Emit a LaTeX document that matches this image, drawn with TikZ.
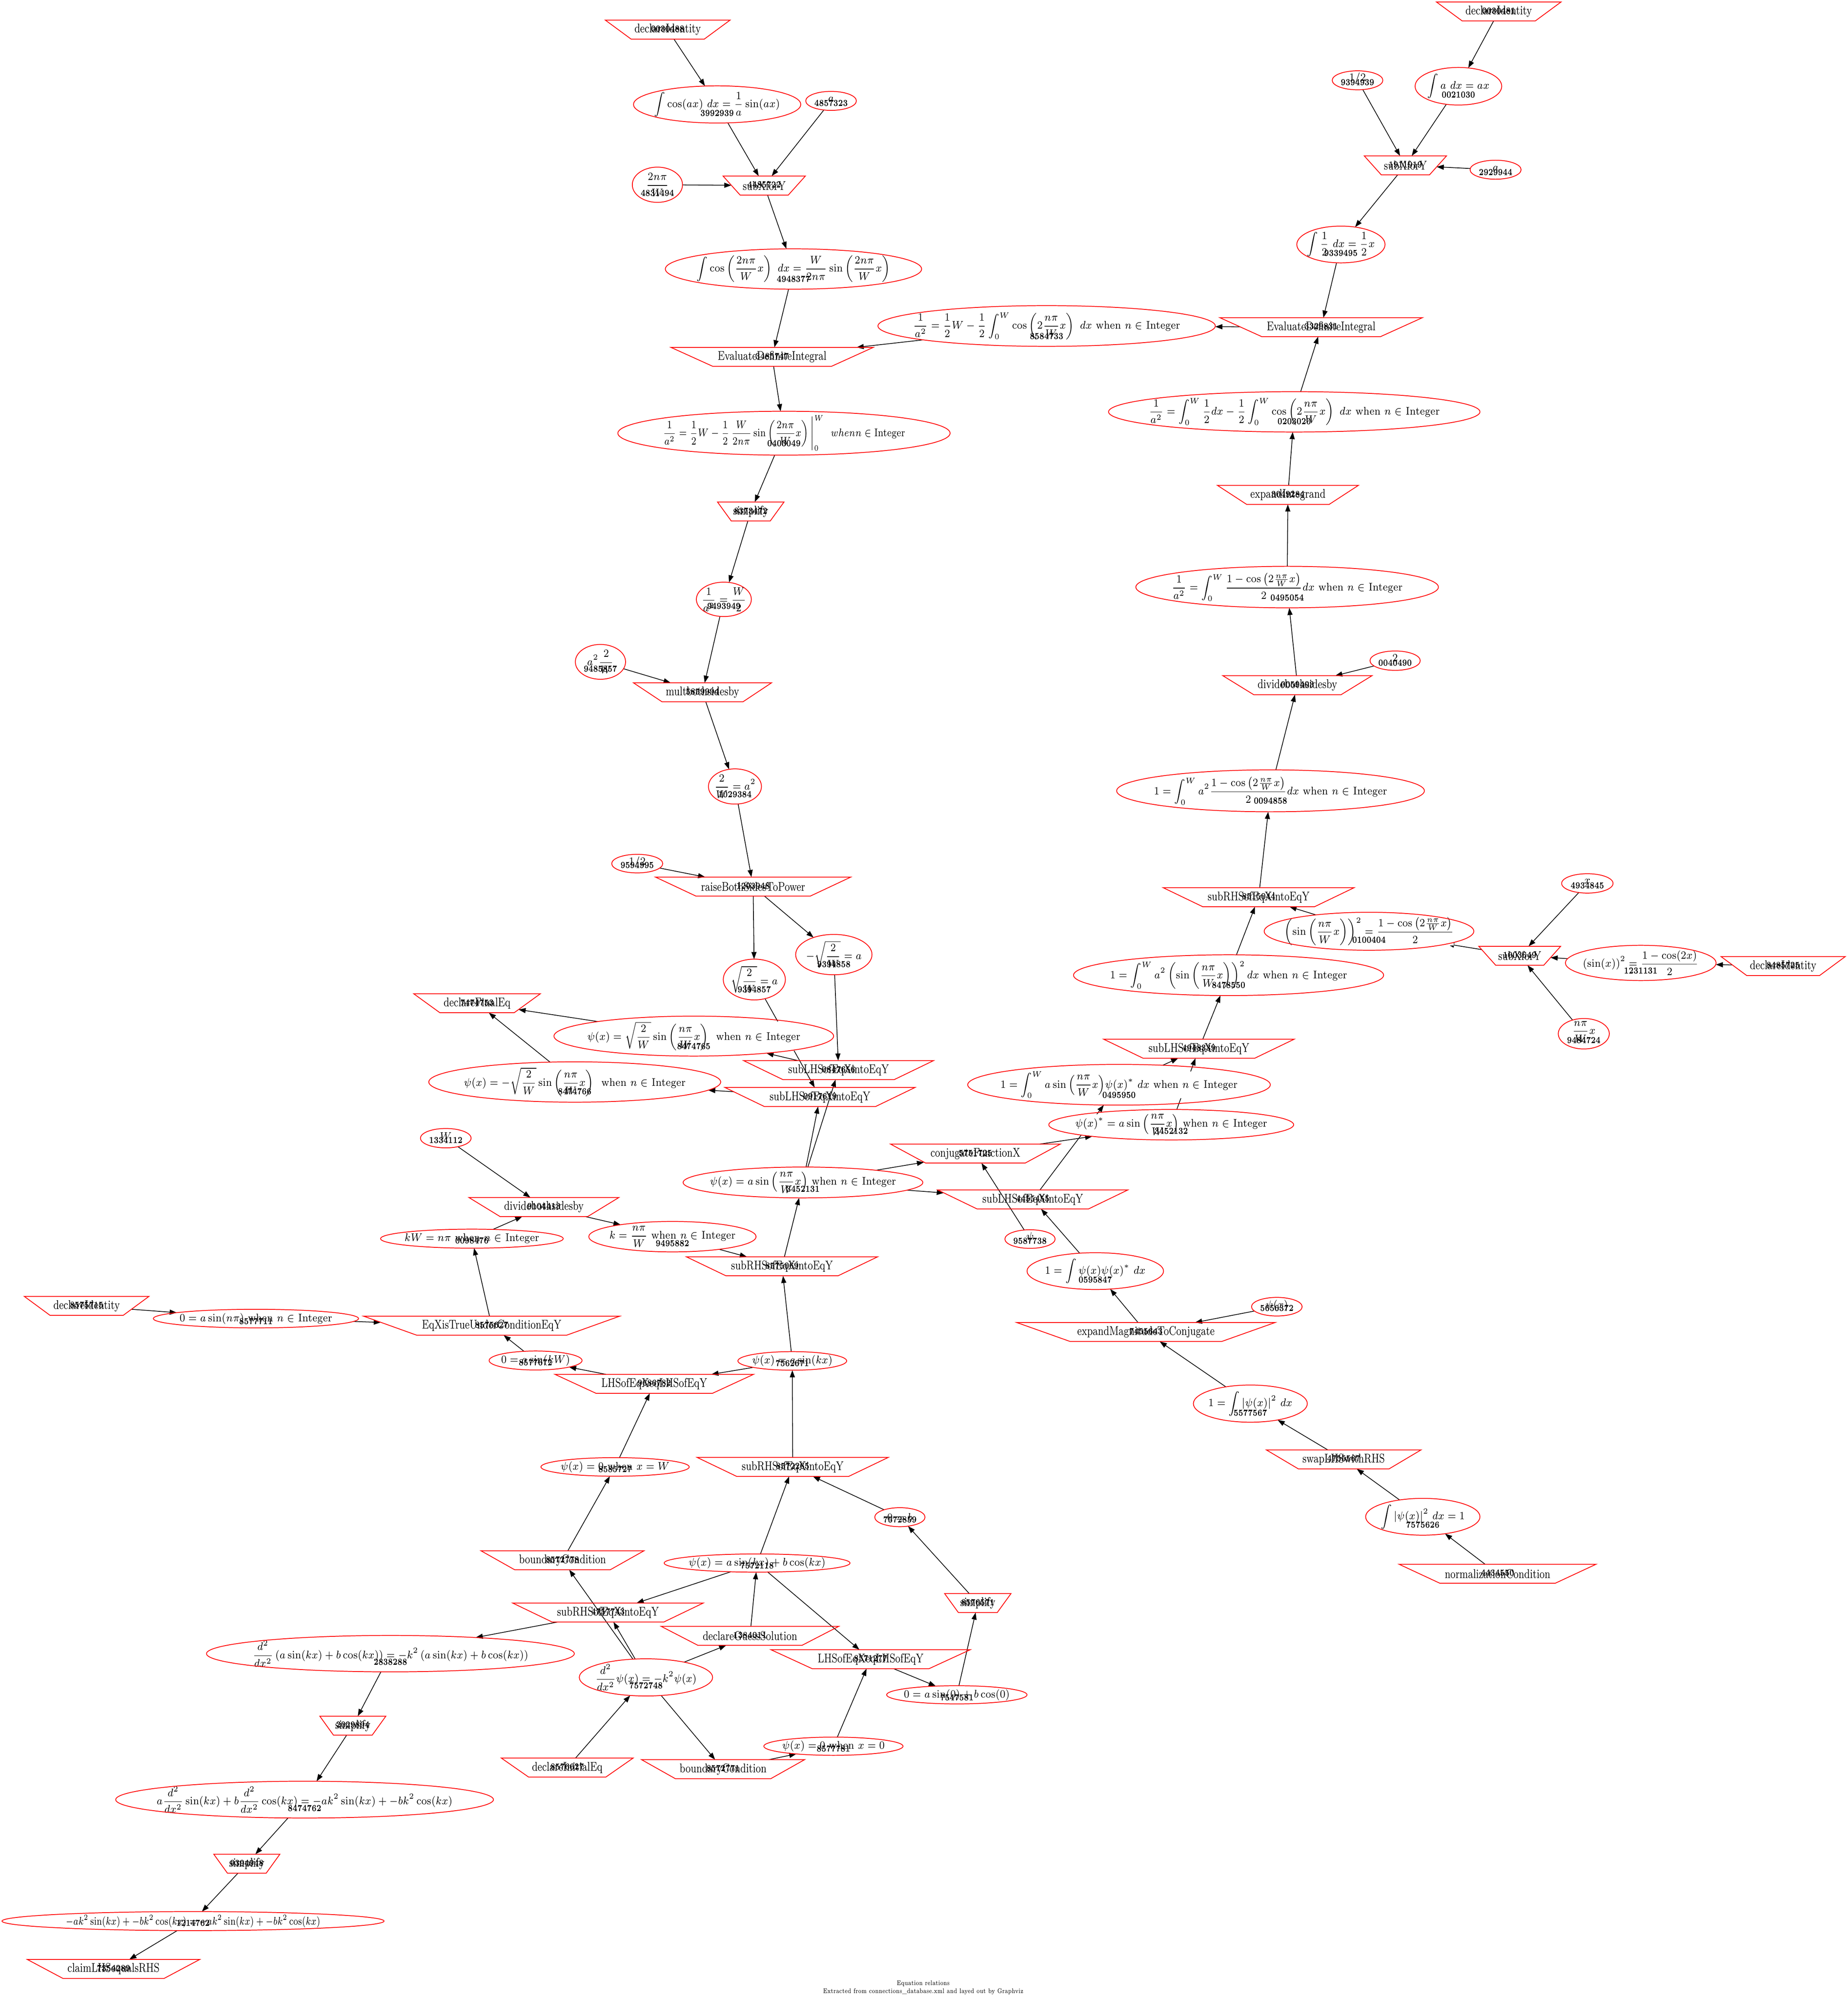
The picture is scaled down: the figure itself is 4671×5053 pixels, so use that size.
\documentclass[tikz,border=0pt]{standalone}
\usepackage{amsmath}
\usepackage{graphicx}
\usetikzlibrary{shapes.geometric,arrows.meta,calc,backgrounds}
\tikzset{
  elshape/.style={ellipse, draw=red, line width=0.5pt, inner sep=0pt, outer sep=0pt},
  trapshape/.style={trapezium, shape border rotate=180, draw=red, line width=0.5pt, inner sep=0pt, outer sep=0pt},
  mlbl/.style={inner sep=0pt, fill=white, font=\fontsize{7}{8.4}\selectfont},
  tlbl/.style={inner sep=0pt, font=\fontsize{8}{9.6}\selectfont},
  idl/.style={inner sep=0pt, font=\fontsize{5.8}{6}\selectfont\bfseries},
  conn/.style={-{Triangle[length=4.5pt,width=3.2pt]}, line width=0.45pt, black},
  foot/.style={align=center, inner sep=0pt, font=\fontsize{4.2}{5}\selectfont},
}
\def\mscale{0.88}
\newcommand\elnode[9]{%
  \node[mlbl] (#1-t) at ($(#2,#3)+(0,#9)$) {\scalebox{\mscale}[1]{#6}};
  \node[elshape, minimum width=#4*0.25pt, minimum height=#5*0.25pt] (#1) at (#2,#3) {};
  \node[idl] (#1-i) at ($(#1)+(0,#8)$) {\scalebox{0.75}[1]{#7}};
}
\newcommand\trapnode[6]{%
  \pgfmathsetmacro\trapang{atan(48/(0.207*#4))}%
  \pgfmathsetlengthmacro\trapbw{0.586*#4*0.25pt}%
  \node[trapshape, trapezium left angle=\trapang, trapezium right angle=\trapang] (#1) at (#2,#3) {\hbox to \trapbw{\vrule width 0pt height 12pt depth 0pt\hfil}};
  \node[tlbl] (#1-t) at (#1) {\scalebox{0.76}[1]{#5}};
  \node[idl] (#1-i) at ($(#1)+(0,-2)$) {\scalebox{0.75}[1]{#6}};
}
\begin{document}
\begin{tikzpicture}[x=0.25pt,y=-0.25pt]
\useasboundingbox (0,0) rectangle (4671,5053);

% process nodes
\trapnode{A1}{1688}{75}{315}{declareIdentity}{0030488}
\trapnode{A5}{1932}{469}{208}{subXforY}{4485722}
\trapnode{A7}{1952}{902}{512}{EvaluateDefiniteIntegral}{3485747}
\trapnode{B2}{3340}{827}{512}{EvaluateDefiniteIntegral}{3329831}
\trapnode{B4}{3256}{1251}{356}{expandIntegrand}{3049284}
\trapnode{C1}{3789}{29}{315}{declareIdentity}{0030481}
\trapnode{C4}{3553}{418}{208}{subXforY}{1911919}
\trapnode{D2}{1898}{1293}{168}{simplify}{8373472}
\trapnode{D5}{1776}{1750}{349}{multbothsidesby}{5859994}
\trapnode{D8}{1904}{2241}{494}{raiseBothSidesToPower}{1293948}
\trapnode{E2}{3280}{1732}{377}{dividebothsidesby}{0059403}
\trapnode{E4}{3182}{2268}{482}{subRHSofEqXintoEqY}{8515044}
\trapnode{E7}{3842}{2416}{207}{subXforY}{1003649}
\trapnode{E9}{4508}{2442}{314}{declareIdentity}{8485725}
\trapnode{E12}{3031}{2651}{481}{subLHSofEqXintoEqY}{4948339}
\trapnode{G4}{2466}{2916}{429}{conjugateFunctionX}{5751725}
\trapnode{G5}{2611}{3032}{480}{subLHSofEqXintoEqY}{4455455}
\trapnode{G9}{2897}{3367}{653}{expandMagnitudeToConjugate}{7455643}
\trapnode{I3}{3397}{3689}{391}{swapLHSwithRHS}{4755567}
\trapnode{I5}{3786}{3978}{498}{normalizationCondition}{4434550}
\trapnode{F5}{1206}{2536}{320}{declareFinalEq}{7474753}
\trapnode{F8}{2120}{2705}{480}{subLHSofEqXintoEqY}{0847656}
\trapnode{F9}{2073}{2773}{480}{subLHSofEqXintoEqY}{0917619}
\trapnode{F14}{1375}{3051}{379}{dividebothsidesby}{9104413}
\trapnode{F17}{1977}{3201}{483}{subRHSofEqXintoEqY}{8575069}
\trapnode{H2}{219}{3301}{315}{declareIdentity}{8575715}
\trapnode{H4}{1243}{3351}{647}{EqXisTrueUnderConditionEqY}{8575627}
\trapnode{H6}{1654}{3498}{502}{LHSofEqXeqLHSofEqY}{9686782}
\trapnode{H9}{2004}{3708}{483}{subRHSofEqXintoEqY}{8572265}
\trapnode{H11}{1422}{3944}{412}{boundaryCondition}{8572778}
\trapnode{H13}{2472}{4052}{168}{simplify}{8576571}
\trapnode{H14}{1537}{4076}{482}{subRHSofEqXintoEqY}{4757743}
\trapnode{H15}{1896}{4135}{449}{declareGuessSolution}{1384011}
\trapnode{H17}{2201}{4194}{504}{LHSofEqXeqLHSofEqY}{8571277}
\trapnode{H20}{1828}{4472}{412}{boundaryCondition}{8572771}
\trapnode{H21}{1434}{4468}{333}{declareInitialEq}{8576627}
\trapnode{K2}{892}{4362}{167}{simplify}{2029894}
\trapnode{K4}{624}{4711}{167}{simplify}{9394948}
\trapnode{K6}{287}{4977}{436}{claimLHSequalsRHS}{7354289}

% expression nodes
\elnode{A2}{1813}{264}{423}{94}{$\displaystyle\int\cos(ax)\ dx=\frac{1}{a}\sin(ax)$}{3992939}{22}{0}
\elnode{A3}{2101}{255}{128}{48}{$a$}{4857323}{6}{-4}
\elnode{A4}{1662}{467}{127}{89}{$\displaystyle\frac{2n\pi}{W}$}{4831494}{21}{0}
\elnode{A6}{2006}{680}{648}{102}{$\displaystyle\int\cos\left(\frac{2n\pi}{W}x\right)\ dx=\frac{W}{2n\pi}\sin\left(\frac{2n\pi}{W}x\right)$}{4948377}{25}{0}
\elnode{B1}{2646}{824}{853}{103}{$\displaystyle\frac{1}{a^2}=\frac{1}{2}W-\frac{1}{2}\int_0^W\cos\left(2\frac{n\pi}{W}x\right)\ dx$ when $n\in$ Integer}{8584733}{26}{0}
\elnode{B3}{3272}{1041}{939}{102}{$\displaystyle\frac{1}{a^2}=\int_0^W\frac{1}{2}dx-\frac{1}{2}\int_0^W\cos\left(2\frac{n\pi}{W}x\right)\ dx$ when $n\in$ Integer}{0203020}{24}{0}
\elnode{B5}{3254}{1484}{765}{105}{$\displaystyle\frac{1}{a^2}=\int_0^W\frac{1-\cos\left(2\frac{n\pi}{W}x\right)}{2}dx$ when $n\in$ Integer}{0495054}{27}{0}
\elnode{B6}{3527}{1670}{127}{49}{$2$}{0040490}{6}{-7}
\elnode{C2}{3687}{218}{219}{95}{$\displaystyle\int a\ dx=ax$}{0021030}{22}{0}
\elnode{C3}{3432}{203}{128}{48}{$1/2$}{9394939}{5}{-5}
\elnode{C5}{3781}{429}{129}{48}{$a$}{2929944}{7}{-3}
\elnode{C6}{3390}{618}{223}{93}{$\displaystyle\int\frac{1}{2}\ dx=\frac{1}{2}x$}{9339495}{22}{0}
\def\mscale{0.8}
\elnode{D1}{1982}{1095}{840}{111}{$\displaystyle\frac{1}{a^2}=\frac{1}{2}W-\frac{1}{2}\,\frac{W}{2n\pi}\sin\left(\frac{2n\pi}{W}x\right)\Bigg|_0^W\ \ whenn\in\mathrm{Integer}$}{0403049}{26}{0}
\def\mscale{0.88}
\elnode{D3}{1830}{1515}{139}{87}{$\displaystyle\frac{1}{a^2}=\frac{W}{2}$}{9493949}{17}{0}
\elnode{D4}{1518}{1673}{127}{88}{$\displaystyle a^2\frac{2}{W}$}{9485857}{18}{0}
\elnode{D6}{1858}{1988}{134}{89}{$\displaystyle\frac{2}{W}=a^2$}{1029384}{20}{0}
\elnode{D7}{1611}{2183}{129}{47}{$1/2$}{9594995}{4}{-4}
\elnode{E3}{3212}{1999}{778}{106}{$\displaystyle 1=\int_0^W a^2\frac{1-\cos\left(2\frac{n\pi}{W}x\right)}{2}dx$ when $n\in$ Integer}{0094858}{25}{0}
\elnode{E5}{3461}{2354}{530}{96}{$\displaystyle\left(\sin\left(\frac{n\pi}{W}x\right)\right)^2=\frac{1-\cos\left(2\frac{n\pi}{W}x\right)}{2}$}{0100404}{22}{0}
\elnode{E6}{4013}{2233}{130}{49}{$x$}{4934845}{5}{-5}
\elnode{E8}{4148}{2434}{381}{89}{$\displaystyle(\sin(x))^2=\frac{1-\cos(2x)}{2}$}{1231131}{20}{0}
\elnode{E10}{4004}{2613}{129}{77}{$\displaystyle\frac{n\pi}{W}x$}{9484724}{17}{-5}
\elnode{E11}{3106}{2465}{784}{103}{$\displaystyle 1=\int_0^W a^2\left(\sin\left(\frac{n\pi}{W}x\right)\right)^2dx$ when $n\in$ Integer}{8478550}{25}{0}
\elnode{G2}{2829}{2742}{765}{103}{$\displaystyle 1=\int_0^W a\sin\Big(\frac{n\pi}{W}x\Big)\psi(x)^*\ dx$ when $n\in$ Integer}{0495950}{26}{0}
\elnode{G3}{2961}{2843}{619}{77}{$\displaystyle\psi(x)^*=a\sin\Big(\frac{n\pi}{W}x\Big)$ when $n\in$ Integer}{3452132}{16}{0}
\elnode{G6}{2604}{3132}{127}{47}{$\psi$}{9587738}{5}{-5}
\elnode{G7}{2769}{3213}{345}{93}{$\displaystyle 1=\int\psi(x)\psi(x)^*\ dx$}{0595847}{22}{0}
\elnode{G8}{3228}{3303}{128}{47}{$\psi(x)$}{5656372}{4}{-3}
\elnode{I2}{3161}{3548}{288}{94}{$\displaystyle 1=\int|\psi(x)|^2\ dx$}{5577567}{23}{0}
\elnode{I4}{3597}{3834}{289}{93}{$\displaystyle\int|\psi(x)|^2\ dx=1$}{7575626}{20}{0}
\elnode{F3}{1907}{2476}{157}{103}{$\displaystyle\sqrt{\frac{2}{W}}=a$}{9394857}{25}{0}
\elnode{F4}{2108}{2413}{193}{102}{$\displaystyle-\sqrt{\frac{2}{W}}=a$}{9394858}{25}{0}
\elnode{F6}{1754}{2619}{707}{101}{$\displaystyle\psi(x)=\sqrt{\frac{2}{W}}\sin\left(\frac{n\pi}{W}x\right)$\ \ when $n\in$ Integer}{8474765}{26}{0}
\elnode{F7}{1453}{2735}{738}{102}{$\displaystyle\psi(x)=-\sqrt{\frac{2}{W}}\sin\left(\frac{n\pi}{W}x\right)$\ \ when $n\in$ Integer}{8474766}{24}{0}
\elnode{F10}{2030}{2989}{606}{78}{$\displaystyle\psi(x)=a\sin\Big(\frac{n\pi}{W}x\Big)$ when $n\in$ Integer}{3452131}{17}{0}
\elnode{F13}{1127}{2877}{128}{49}{$W$}{1334112}{5}{-5}
\elnode{F15}{1193}{3131}{462}{48}{$kW=n\pi$ when $n\in$ Integer}{0098476}{5}{0}
\elnode{F16}{1700}{3126}{423}{77}{$\displaystyle k=\frac{n\pi}{W}$ when $n\in$ Integer}{9495882}{17}{0}
\elnode{H3}{647}{3333}{519}{47}{$0=a\sin(n\pi)$ when $n\in$ Integer}{8577711}{7}{0}
\elnode{H5}{1354}{3439}{235}{48}{$0=a\sin(kW)$}{8577672}{5}{0}
\elnode{H7}{2003}{3440}{275}{47}{$\psi(x)=a\sin(kx)$}{7562671}{6}{0}
\elnode{H8}{1555}{3708}{375}{47}{$\psi(x)=0$ when $x=W$}{8585727}{6}{0}
\elnode{H10}{2275}{3835}{127}{48}{$0=b$}{7572859}{6}{0}
\elnode{H12}{1914}{3951}{470}{46}{$\psi(x)=a\sin(kx)+b\cos(kx)$}{7572118}{6}{0}
\elnode{H16}{1633}{4240}{337}{94}{$\displaystyle\frac{d^2}{dx^2}\psi(x)=-k^2\psi(x)$}{7572748}{21}{0}
\elnode{H18}{2419}{4284}{355}{46}{$0=a\sin(0)+b\cos(0)$}{7547581}{7}{0}
\elnode{H19}{2107}{4414}{352}{46}{$\psi(x)=0$ when $x=0$}{8577781}{6}{0}
\elnode{K1}{987}{4180}{930}{92}{$\displaystyle\frac{d^2}{dx^2}\left(a\sin(kx)+b\cos(kx)\right)=-k^2\left(a\sin(kx)+b\cos(kx)\right)$}{2838288}{21}{0}
\elnode{K3}{770}{4549}{955}{93}{$\displaystyle a\frac{d^2}{dx^2}\sin(kx)+b\frac{d^2}{dx^2}\cos(kx)=-ak^2\sin(kx)+-bk^2\cos(kx)$}{8474762}{22}{0}
\def\mscale{0.76}
\elnode{K5}{488}{4856}{966}{48}{$-ak^2\sin(kx)+-bk^2\cos(kx)=-ak^2\sin(kx)+-bk^2\cos(kx)$}{1214762}{5}{0}
\def\mscale{0.88}

\node[foot] (footer) at (2334,5024) {\scalebox{0.72}[1]{Equation relations}\\\scalebox{0.72}[1]{Extracted from connections\_database.xml and layed out by Graphviz}};

\begin{pgfonlayer}{background}
\foreach \a/\b in {A1/A2, A2/A5, A3/A5, A4/A5, A5/A6, A6/A7, B1/A7, A7/D1,
  C1/C2, C3/C4, C2/C4, C5/C4, C4/C6, C6/B2, B2/B1, B3/B2, B4/B3, B5/B4, E2/B5, B6/E2, E3/E2,
  E4/E3, E5/E4, E11/E4, E6/E7, E8/E7, E10/E7, E9/E8, E7/E5, E12/E11, G3/E12, G5/G2, G4/G3,
  F10/G4, G6/G4, F10/G5, G7/G5, G9/G7, G8/G9, I2/G9, I3/I2, I4/I3, I5/I4,
  D1/D2, D2/D3, D3/D5, D4/D5, D5/D6, D6/D8, D7/D8, D8/F3, D8/F4, F3/F9, F4/F8, F8/F6, F9/F7,
  F6/F5, F7/F5, F10/F8, F10/F9, F17/F10, F16/F17, F14/F16, F13/F14, F15/F14, H4/F15, H3/H4,
  H2/H3, H5/H4, H6/H5, H7/H6, H8/H6, H7/F17, H9/H7, H10/H9, H12/H9, H11/H8, H13/H10, H18/H13,
  H17/H18, H12/H17, H19/H17, H20/H19, H16/H20, H16/H11, H16/H14, H12/H14, H14/K1, H15/H12,
  H16/H15, H21/H16, K1/K2, K2/K3, K3/K4, K4/K5, K5/K6}
  \draw[conn] (\a) -- (\b);
\draw[conn] (G2.24) -- (E12);
\end{pgfonlayer}
\end{tikzpicture}
\end{document}
